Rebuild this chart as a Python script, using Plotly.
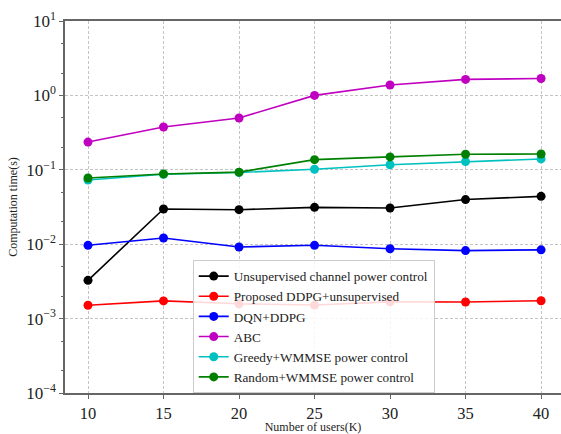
import plotly.graph_objects as go

users = [10, 15, 20, 25, 30, 35, 40]

unsup = [0.00327, 0.0297, 0.0291, 0.0313, 0.0307, 0.0398, 0.0440]
ddpg_unsup = [0.00151, 0.00173, 0.00158, 0.00152, 0.00168, 0.00167, 0.00174]
dqn_ddpg = [0.00966, 0.0121, 0.00917, 0.00966, 0.0087, 0.0082, 0.0084]
abc = [0.236, 0.376, 0.497, 1.0, 1.38, 1.64, 1.69]
greedy = [0.073, 0.087, 0.092, 0.1016, 0.117, 0.129, 0.140]
rand_w = [0.0776, 0.088, 0.093, 0.137, 0.149, 0.162, 0.163]

names = ["Unsupervised channel power control", "Proposed DDPG+unsupervised",
         "DQN+DDPG", "ABC", "Greedy+WMMSE power control", "Random+WMMSE power control"]
colors = ["black", "red", "blue", "#c000c0", "#00c0c0", "green"]
series = [unsup, ddpg_unsup, dqn_ddpg, abc, greedy, rand_w]

ytick_vals = [1e-4, 1e-3, 1e-2, 1e-1, 1e0, 1e1]
ytick_text = ["10<sup>−4</sup>", "10<sup>−3</sup>", "10<sup>−2</sup>",
              "10<sup>−1</sup>", "10<sup>0</sup>", "10<sup>1</sup>"]
xtick_vals = [10, 15, 20, 25, 30, 35, 40]

fig = go.Figure()
for name, col, ys in zip(names, colors, series):
    fig.add_trace(go.Scatter(x=users, y=ys, name=name, mode="lines+markers",
                             line=dict(color=col, width=1.6),
                             marker=dict(color=col, size=9)))

font = "Liberation Serif, Times New Roman, serif"
fig.update_layout(
    width=561, height=434,
    margin=dict(l=65, r=0, t=21, b=41),
    paper_bgcolor="white", plot_bgcolor="white",
    font=dict(family=font, color="#222"),
    showlegend=True,
    legend=dict(x=0.2575, y=0.3575, xanchor="left", yanchor="top",
                bgcolor="rgba(255,255,255,0.85)", bordercolor="#cccccc", borderwidth=1,
                font=dict(family=font, size=13.2, color="#222"),
                tracegroupgap=0),
    xaxis=dict(range=[8.477, 41.32], tickvals=xtick_vals, automargin=False,
               showline=True, linecolor="#666", linewidth=1.5, mirror=True,
               ticks="outside", ticklen=4, tickcolor="#666",
               showgrid=True, gridcolor="#c4c4c4", griddash="3px,2px", gridwidth=0.8,
               tickfont=dict(size=16.5), zeroline=False,
               title=dict(text="Number of users(K)", font=dict(size=12), standoff=8)),
    yaxis=dict(type="log", range=[-4, 1], tickvals=ytick_vals, ticktext=ytick_text,
               automargin=False,
               showline=True, linecolor="#666", linewidth=1.5,
               ticks="outside", ticklen=4, tickcolor="#666",
               showgrid=True, gridcolor="#c4c4c4", griddash="3px,2px", gridwidth=0.8,
               tickfont=dict(size=17),
               minor=dict(ticks="outside", ticklen=2, tickcolor="#666", showgrid=False),
               title=dict(text="Computation time(s)", font=dict(size=12), standoff=6)),
)

fig.write_html("out.html", config={"displayModeBar": False},
               post_script="document.body.style.margin='0';")
